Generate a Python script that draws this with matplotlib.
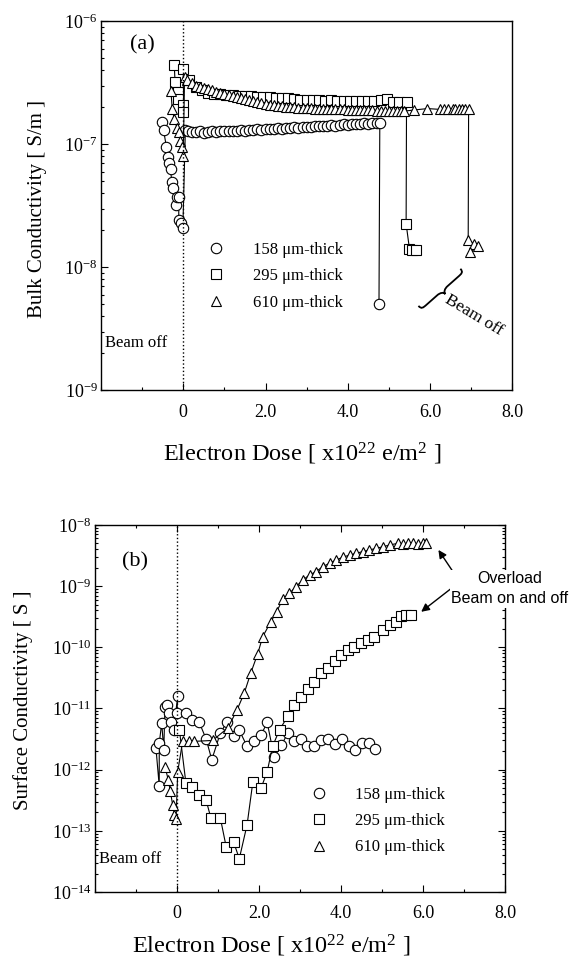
import numpy as np
import matplotlib
matplotlib.use("Agg")
import matplotlib.pyplot as plt
from matplotlib.lines import Line2D
from matplotlib.path import Path
from matplotlib.patches import PathPatch
from matplotlib.transforms import Affine2D
from matplotlib.ticker import LogLocator, NullFormatter, MultipleLocator

plt.rcParams["font.family"] = ["Liberation Serif", "DejaVu Serif"]
plt.rcParams["mathtext.fontset"] = "custom"
plt.rcParams["mathtext.rm"] = "Liberation Serif"
plt.rcParams["mathtext.it"] = "Liberation Serif:italic"
plt.rcParams["mathtext.bf"] = "Liberation Serif:bold"

# -------------------------------------------------
# Panel (a): bulk conductivity, values in units of 1e-7 S/m
# -------------------------------------------------

circ_a_x = [-0.52, -0.48, -0.41, -0.38, -0.35, -0.31, -0.28, -0.24, -0.18, -0.15,
            -0.11, -0.11, -0.06, -0.01,
            0.05, 0.12, 0.2, 0.3, 0.4, 0.5, 0.6, 0.7, 0.8, 0.9,
            1.0, 1.1, 1.2, 1.3, 1.4, 1.5, 1.6, 1.7, 1.8, 1.9,
            2.0, 2.1, 2.2, 2.3, 2.4, 2.5, 2.6, 2.7, 2.8, 2.9,
            3.0, 3.1, 3.2, 3.3, 3.4, 3.5, 3.6, 3.7, 3.8, 3.9,
            4.0, 4.1, 4.2, 4.3, 4.4, 4.5, 4.6, 4.7, 4.78,
            4.76]
circ_a_y = [1.52, 1.30, 0.95, 0.79, 0.70, 0.63, 0.49, 0.44, 0.32, 0.37,
            0.37, 0.24, 0.23, 0.21,
            1.30, 1.27, 1.26, 1.25, 1.27, 1.24, 1.25, 1.27, 1.26, 1.27,
            1.28, 1.27, 1.29, 1.28, 1.30, 1.29, 1.31, 1.30, 1.32, 1.31,
            1.33, 1.32, 1.34, 1.35, 1.34, 1.36, 1.35, 1.37, 1.36, 1.38,
            1.39, 1.38, 1.40, 1.41, 1.40, 1.42, 1.43, 1.42, 1.44, 1.45,
            1.44, 1.46, 1.47, 1.46, 1.48, 1.47, 1.49, 1.50, 1.50,
            0.05]

sq_a_x = [-0.22, -0.2, -0.12, -0.12, 0.0, 0.0,
          0.0,
          0.15, 0.3, 0.45, 0.6, 0.75, 0.9, 1.05, 1.2, 1.35, 1.5,
          1.65, 1.8, 1.95, 2.1, 2.25, 2.4, 2.55, 2.7, 2.85, 3.0,
          3.15, 3.3, 3.45, 3.6, 3.75, 3.9, 4.05, 4.2, 4.35, 4.5,
          4.65, 4.8, 4.95, 5.1, 5.25,
          5.43,
          5.42, 5.5, 5.57, 5.65]
sq_a_y = [4.4, 3.2, 2.66, 2.33, 2.08, 1.83,
          4.1,
          3.3, 2.9, 2.75, 2.62, 2.57, 2.54, 2.52, 2.5, 2.48, 2.47,
          2.45, 2.44, 2.42, 2.4, 2.38, 2.36, 2.38, 2.33, 2.3, 2.3,
          2.28, 2.27, 2.25, 2.28, 2.25, 2.25, 2.26, 2.25, 2.24, 2.23,
          2.25, 2.3, 2.33, 2.2, 2.2,
          2.2,
          0.226, 0.142, 0.138, 0.137]

tri_a_x = [-0.3, -0.27, -0.22, -0.15, -0.11, -0.07, -0.03, 0.0,
           0.03, 0.1,
           0.2, 0.3, 0.4, 0.5, 0.6, 0.7, 0.8, 0.9, 1.0, 1.1,
           1.2, 1.3, 1.4, 1.5, 1.6, 1.7, 1.8, 1.9, 2.0, 2.1,
           2.2, 2.3, 2.4, 2.5, 2.6, 2.7, 2.8, 2.9, 3.0, 3.1,
           3.2, 3.3, 3.4, 3.5, 3.6, 3.7, 3.8, 3.9, 4.0, 4.1,
           4.2, 4.3, 4.4, 4.5, 4.6, 4.7, 4.8, 4.9, 5.0, 5.1,
           5.2, 5.3, 5.38, 5.62, 5.94,
           6.25, 6.35, 6.45, 6.55, 6.62, 6.7, 6.78, 6.86, 6.94,
           6.93, 7.08, 7.18, 6.98]
tri_a_y = [2.7, 1.95, 1.6, 1.35, 1.25, 1.07, 0.95, 0.80,
           3.5, 3.3,
           3.15, 3.0, 2.92, 2.85, 2.8, 2.75, 2.68, 2.6, 2.55, 2.5,
           2.45, 2.42, 2.38, 2.33, 2.28, 2.24, 2.2, 2.16, 2.12, 2.1,
           2.07, 2.05, 2.03, 2.01, 2.0, 1.99, 1.98, 1.97, 1.96, 1.96,
           1.95, 1.95, 1.94, 1.94, 1.93, 1.93, 1.92, 1.92, 1.91, 1.91,
           1.9, 1.9, 1.9, 1.89, 1.89, 1.88, 1.88, 1.87, 1.87, 1.87,
           1.86, 1.86, 1.86, 1.9, 1.95,
           1.92, 1.92, 1.93, 1.93, 1.93, 1.94, 1.94, 1.94, 1.94,
           0.166, 0.155, 0.15, 0.132]

# -------------------------------------------------
# Panel (b): surface conductivity, values in S
# -------------------------------------------------

circ_b_x = [-0.51, -0.43, -0.43, -0.37, -0.32, -0.29, -0.23, -0.19, -0.15, -0.08,
            0.02, 0.0, 0.22, 0.38, 0.54, 0.71, 0.85, 1.06, 1.22, 1.38,
            1.52, 1.71, 1.87, 2.05, 2.2, 2.37, 2.54, 2.7, 2.86, 3.02,
            3.17, 3.33, 3.51, 3.67, 3.85, 4.02, 4.18, 4.34, 4.5, 4.67,
            4.83]
circ_b_y = [2.24e-12, 5.4e-13, 2.7e-12, 5.75e-12, 2.1e-12, 1.07e-11, 1.15e-11, 8.3e-12, 6.0e-12, 4.5e-12,
            1.58e-11, 8.3e-12, 8.3e-12, 6.6e-12, 6.0e-12, 3.2e-12, 1.45e-12, 4.0e-12, 6.0e-12, 3.5e-12,
            4.4e-12, 2.4e-12, 2.9e-12, 3.7e-12, 5.9e-12, 1.6e-12, 2.5e-12, 3.9e-12, 2.9e-12, 3.2e-12,
            2.4e-12, 2.45e-12, 3.1e-12, 3.2e-12, 2.6e-12, 3.2e-12, 2.4e-12, 2.1e-12, 2.75e-12, 2.75e-12,
            2.2e-12]

sq_b_x = [0.06, 0.22, 0.36, 0.54, 0.71, 0.83, 1.06, 1.2, 1.38, 1.52,
          1.71, 1.85, 2.05, 2.2, 2.33, 2.5, 2.7, 2.85, 3.02, 3.19,
          3.33, 3.5, 3.67, 3.84, 4.0, 4.16, 4.31, 4.49, 4.65, 4.81,
          5.02, 5.18, 5.34, 5.46, 5.59, 5.71]
sq_b_y = [4.5e-12, 6.0e-13, 5.2e-13, 3.9e-13, 3.2e-13, 1.6e-13, 1.6e-13, 5.5e-14, 6.6e-14, 3.5e-14,
          1.26e-13, 6.3e-13, 5.0e-13, 9.3e-13, 2.4e-12, 4.5e-12, 7.4e-12, 1.15e-11, 1.55e-11, 2.1e-11,
          2.75e-11, 3.8e-11, 4.6e-11, 5.9e-11, 7.4e-11, 9.1e-11, 1.02e-10, 1.17e-10, 1.32e-10, 1.48e-10,
          1.9e-10, 2.3e-10, 2.6e-10, 3.2e-10, 3.4e-10, 3.4e-10]

tri_b_x = [-0.29, -0.21, -0.16, -0.1, -0.06, -0.02, 0.02, 0.14, 0.3, 0.42,
           0.87, 1.24, 1.46, 1.64, 1.8, 1.97, 2.09, 2.29, 2.43, 2.58,
           2.74, 2.9, 3.07, 3.23, 3.39, 3.56, 3.72, 3.88, 4.04, 4.21,
           4.37, 4.53, 4.69, 4.86, 5.02, 5.18, 5.38, 5.5, 5.62, 5.75,
           5.88, 6.0, 6.07]
tri_b_y = [1.12e-12, 6.8e-13, 4.4e-13, 2.6e-13, 1.8e-13, 1.55e-13, 9.3e-13, 2.9e-12, 2.9e-12, 2.9e-12,
           3.0e-12, 4.8e-12, 9.3e-12, 1.78e-11, 3.8e-11, 7.9e-11, 1.49e-10, 2.63e-10, 3.83e-10, 6.1e-10,
           7.6e-10, 9.8e-10, 1.26e-9, 1.52e-9, 1.73e-9, 2.09e-9, 2.37e-9, 2.68e-9, 2.96e-9, 3.23e-9,
           3.44e-9, 3.67e-9, 3.9e-9, 4.15e-9, 4.4e-9, 4.7e-9, 5.0e-9, 4.8e-9, 5.0e-9, 5.0e-9,
           4.9e-9, 5.0e-9, 5.1e-9]

series_labels = ["158 \u03bcm-thick", "295 \u03bcm-thick", "610 \u03bcm-thick"]
x_ticks = [0, 2, 4, 6, 8]
x_tick_labels = ["0", "2.0", "4.0", "6.0", "8.0"]
x_label = "Electron Dose [ x10$^{22}$ e/m$^{2}$ ]"

# -------------------------------------------------
# Styles
# -------------------------------------------------

markers = ["o", "s", "^"]
marker_sizes = [7.5, 6.8, 7.5]
line_kw = dict(color="black", lw=0.8, mfc="white", mec="black", mew=0.8)


def style_axes(ax, ylim, all_sides):
    ax.set_xlim(-2, 8)
    ax.set_yscale("log")
    ax.set_ylim(*ylim)
    ax.set_xticks(x_ticks, x_tick_labels)
    ax.xaxis.set_minor_locator(MultipleLocator(1))
    ax.yaxis.set_major_locator(LogLocator(base=10, numticks=20))
    ax.yaxis.set_minor_locator(LogLocator(base=10, subs=np.arange(2, 10), numticks=20))
    ax.yaxis.set_minor_formatter(NullFormatter())
    ax.tick_params(which="both", direction="in", top=all_sides, right=all_sides,
                   labelsize=13, width=0.8)
    ax.tick_params(which="major", length=5)
    ax.tick_params(which="minor", length=2.5)
    ax.tick_params(axis="x", which="major", pad=10)
    ax.tick_params(axis="y", which="major", pad=2.5)
    for s in ax.spines.values():
        s.set_linewidth(1.0)
    ax.axvline(0, color="black", ls=":", lw=1.0, zorder=5)


def brace_path(half_len, width, curl):
    # curly brace along +y, cusp pointing to -x
    h, w, c = half_len, width, curl
    verts = [(0, -h),
             (-w * 0.5, -h), (-w * 0.5, -h + c * 0.3), (-w * 0.5, -h + c),
             (-w * 0.5, -c),
             (-w * 0.5, -c * 0.4), (-w * 0.7, 0), (-w, 0),
             (-w * 0.7, 0), (-w * 0.5, c * 0.4), (-w * 0.5, c),
             (-w * 0.5, h - c),
             (-w * 0.5, h - c * 0.3), (-w * 0.5, h), (0, h)]
    codes = [Path.MOVETO,
             Path.CURVE4, Path.CURVE4, Path.CURVE4,
             Path.LINETO,
             Path.CURVE4, Path.CURVE4, Path.CURVE4,
             Path.CURVE4, Path.CURVE4, Path.CURVE4,
             Path.LINETO,
             Path.CURVE4, Path.CURVE4, Path.CURVE4]
    return Path(verts, codes)


fig = plt.figure(figsize=(5.71, 9.66), dpi=100)

# -------------------------------------------------
# Panel (a)
# -------------------------------------------------

ax_a = fig.add_axes([0.177, 0.596, 0.720, 0.382])
data_a = [(circ_a_x, circ_a_y), (sq_a_x, sq_a_y), (tri_a_x, tri_a_y)]
for (xs, ys), m, ms in zip(data_a, markers, marker_sizes):
    ax_a.plot(xs, np.array(ys) * 1e-7, marker=m, ms=ms, **line_kw)
style_axes(ax_a, (1e-9, 1e-6), False)

ax_a.set_ylabel("Bulk Conductivity [ S/m ]", fontsize=15)
ax_a.yaxis.set_label_coords(-0.131, 0.49)
ax_a.set_xlabel(x_label, fontsize=17.5)
ax_a.xaxis.set_label_coords(0.49, -0.136)

ax_a.text(0.07, 0.935, "(a)", transform=ax_a.transAxes, fontsize=16,
          ha="left", va="center")
ax_a.text(0.01, 0.127, "Beam off", transform=ax_a.transAxes, fontsize=12,
          ha="left", va="center")

# curly brace (cusp toward the label) and rotated label
brace_center = ax_a.transData.transform((6.23, 6.87e-9))
brace_tf = Affine2D().rotate_deg(131.5).translate(*brace_center)
ax_a.add_patch(PathPatch(brace_path(28, 9, 7), transform=brace_tf, fill=False,
                         lw=1.3, ec="black", clip_on=False))
ax_a.text(7.07, 4.1e-9, "Beam off", fontsize=12.5, rotation=-31, ha="center",
          va="center", rotation_mode="anchor")

handles = [Line2D([], [], marker=m, ms=ms, ls="none", mfc="white", mec="black", mew=0.8)
           for m, ms in zip(markers, marker_sizes)]
ax_a.legend(handles, series_labels, loc="center left", bbox_to_anchor=(0.239, 0.309),
            frameon=False, fontsize=12, borderpad=0, borderaxespad=0,
            handletextpad=1.2, labelspacing=0.62)

# -------------------------------------------------
# Panel (b)
# -------------------------------------------------

ax_b = fig.add_axes([0.166, 0.0766, 0.719, 0.380])
data_b = [(circ_b_x, circ_b_y), (sq_b_x, sq_b_y), (tri_b_x, tri_b_y)]
for (xs, ys), m, ms in zip(data_b, markers, marker_sizes):
    ax_b.plot(xs, ys, marker=m, ms=ms, **line_kw)
style_axes(ax_b, (1e-14, 1e-8), True)
ax_b.tick_params(axis="x", which="major", pad=9)

ax_b.set_ylabel("Surface Conductivity [ S ]", fontsize=15)
ax_b.yaxis.set_label_coords(-0.151, 0.523)
ax_b.set_xlabel(x_label, fontsize=17.5)
ax_b.xaxis.set_label_coords(0.43, -0.11)

ax_b.text(0.066, 0.90, "(b)", transform=ax_b.transAxes, fontsize=16,
          ha="left", va="center")
ax_b.text(0.01, 0.09, "Beam off", transform=ax_b.transAxes, fontsize=12,
          ha="left", va="center")

ax_b.text(1.011, 0.826, "Overload\nBeam on and off", transform=ax_b.transAxes,
          family="Liberation Sans", fontsize=11.5, ha="center", va="center",
          linespacing=1.4, zorder=10, clip_on=False,
          bbox=dict(facecolor="white", edgecolor="none", pad=1))
arrow_kw = dict(arrowstyle="-|>", color="black", lw=1.0, mutation_scale=12,
                shrinkA=0, shrinkB=0)
ax_b.annotate("", xy=(6.37, 3.9e-9), xytext=(6.73, 1.7e-9), arrowprops=arrow_kw)
ax_b.annotate("", xy=(5.95, 3.8e-10), xytext=(6.73, 9.7e-10), arrowprops=arrow_kw)

ax_b.legend(handles, series_labels, loc="center left", bbox_to_anchor=(0.505, 0.193),
            frameon=False, fontsize=12, borderpad=0, borderaxespad=0,
            handletextpad=1.2, labelspacing=0.62)

plt.savefig("out.png", dpi=100)
